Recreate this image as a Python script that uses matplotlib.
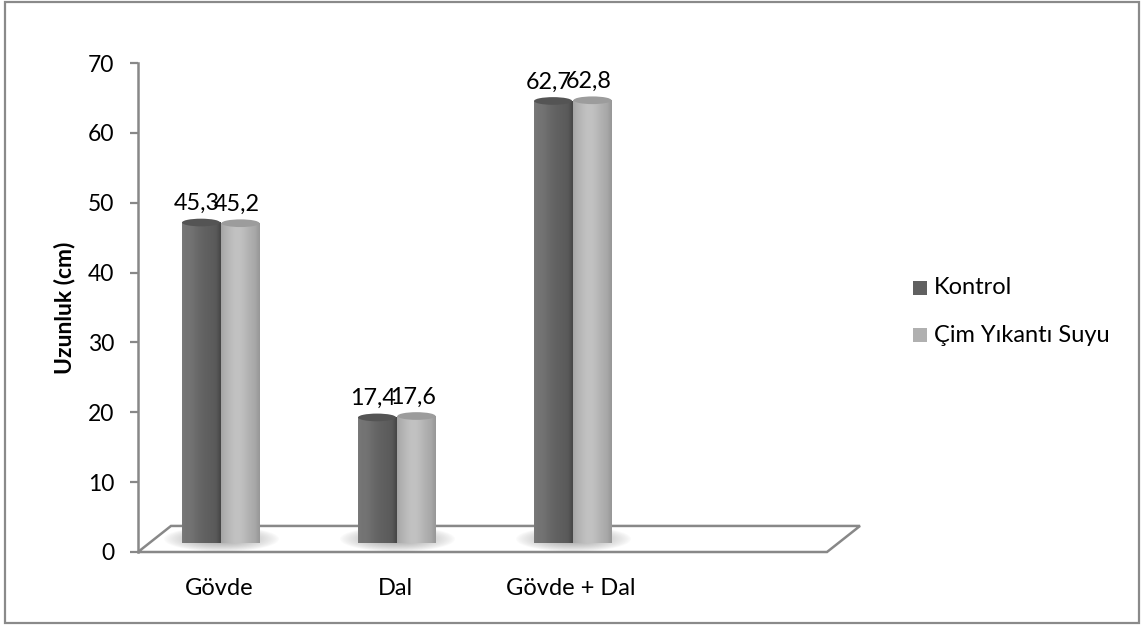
import numpy as np
import matplotlib
matplotlib.use("Agg")
import matplotlib.pyplot as plt
from matplotlib.patches import Ellipse, PathPatch, Polygon, Rectangle
from matplotlib.path import Path

plt.rcParams['font.family'] = ['Lato', 'DejaVu Sans']

# Data
categories = ["Gövde", "Dal", "Gövde + Dal"]
series_names = ["Kontrol", "Çim Yıkantı Suyu"]
kontrol = [45.3, 17.4, 62.7]
cim_yikanti = [45.2, 17.6, 62.8]
value_labels_k = ["45,3", "17,4", "62,7"]
value_labels_c = ["45,2", "17,6", "62,8"]
y_ticks = [0, 10, 20, 30, 40, 50, 60, 70]

W, H = 1143, 626
fig = plt.figure(figsize=(W / 100, H / 100), dpi=100)
fig.patch.set_facecolor("white")

# outer chart border
fig.add_artist(Rectangle((5 / W, 3 / H), 1134 / W, 621 / H, transform=fig.transFigure,
                         fill=False, edgecolor="#8a8a8a", linewidth=1.6))

ax_l, ax_r, ax_b, ax_t = 138, 860, 552, 63
ax = fig.add_axes([ax_l / W, (H - ax_b) / H, (ax_r - ax_l) / W, (ax_b - ax_t) / H])
xmin = (ax_l - 219) / 176
xmax = (ax_r - 219) / 176

grey = "#888888"
depth_x = 33 / 176          # floor depth, horizontal part (data units)
depth_y = 3.73              # floor depth, vertical part (value units)
base = depth_y / 2          # bars stand in the middle of the floor
half_w = 0.108
ell_h = 0.55

# floor
floor_front_r = (827 - 219) / 176
floor = Polygon([(xmin, 0), (floor_front_r, 0), (floor_front_r + depth_x, depth_y),
                 (xmin + depth_x, depth_y)], closed=True, facecolor="white",
                edgecolor=grey, linewidth=1.8, clip_on=False, zorder=1)
ax.add_patch(floor)


def profile(kind, n=64):
    t = np.linspace(0, 1, n)
    if kind == "dark":
        v = 0.44 - 0.10 * t + 0.03 * np.exp(-((t - 0.2) / 0.2) ** 2)
        v -= 0.06 * np.exp(-((1 - t) / 0.08) ** 2)
        v += 0.02 * np.exp(-(t / 0.06) ** 2)
    else:
        v = 0.64 + 0.12 * np.exp(-((t - 0.42) / 0.35) ** 2)
        v -= 0.05 * np.exp(-((1 - t) / 0.08) ** 2)
        v -= 0.02 * np.exp(-(t / 0.06) ** 2)
    return v


def shadow(xc):
    nx, ny = 120, 40
    xs = np.linspace(-1, 1, nx)
    ys = np.linspace(-1, 1, ny)
    X, Y = np.meshgrid(xs, ys)
    r = np.sqrt(X ** 2 + Y ** 2)
    a = np.clip(1 - r, 0, 1) ** 0.8 * 0.65
    img = np.zeros((ny, nx, 4))
    img[..., :3] = 0.42
    img[..., 3] = a
    sw, sh = 0.33, 1.9
    ax.imshow(img, extent=[xc - sw, xc + sw, base - sh, base + sh * 0.9],
              aspect="auto", interpolation="bilinear", zorder=2, clip_on=False)


def cylinder(xc, value, kind):
    top = base + value
    verts = [(xc - half_w, top), (xc - half_w, base)]
    th = np.linspace(np.pi, 2 * np.pi, 40)
    verts += [(xc + half_w * np.cos(a), base + ell_h * np.sin(a)) for a in th]
    verts += [(xc + half_w, top), (xc - half_w, top)]
    codes = [Path.MOVETO] + [Path.LINETO] * (len(verts) - 2) + [Path.CLOSEPOLY]
    body = PathPatch(Path(verts, codes), facecolor="none", edgecolor="none",
                     transform=ax.transData)
    ax.add_patch(body)
    prof = profile(kind)
    img = np.tile(prof[None, :, None], (2, 1, 3))
    im = ax.imshow(img, extent=[xc - half_w, xc + half_w, base - ell_h, top],
                   aspect="auto", interpolation="bilinear", zorder=3,
                   vmin=0, vmax=1, clip_on=False)
    im.set_clip_path(body)
    cap_col = "#545454" if kind == "dark" else "#9c9c9c"
    ax.add_patch(Ellipse((xc, top), 2 * half_w, 2 * ell_h, facecolor=cap_col,
                         edgecolor="none", zorder=4, clip_on=False))
    return top


offset = 0.112
for i in range(len(categories)):
    xc = i + 0.01
    shadow(xc)
    t1 = cylinder(xc - offset, kontrol[i], "dark")
    ax.annotate(value_labels_k[i], (xc - offset - 0.025, t1), xytext=(0, 6),
                textcoords="offset points", ha="center", va="bottom",
                fontsize=16.8, color="black", zorder=6)
    t2 = cylinder(xc + offset, cim_yikanti[i], "light")
    ax.annotate(value_labels_c[i], (xc + offset - 0.02, t2), xytext=(0, 6),
                textcoords="offset points", ha="center", va="bottom",
                fontsize=16.8, color="black", zorder=6)

ax.set_xlim(xmin, xmax)
ax.set_ylim(0, 70)
ax.set_facecolor("none")
for s in ["top", "right", "bottom"]:
    ax.spines[s].set_visible(False)
ax.spines["left"].set_color(grey)
ax.spines["left"].set_linewidth(1.8)
ax.set_yticks(y_ticks)
ax.set_yticklabels([str(v) for v in y_ticks], fontsize=16.5)
ax.tick_params(axis="y", length=6, width=1.6, color=grey, pad=11)
ax.set_xticks(range(len(categories)))
ax.set_xticklabels(categories, fontsize=17)
ax.tick_params(axis="x", length=0, pad=19)
ax.set_ylabel("Uzunluk (cm)", fontsize=16.5, fontweight="bold", labelpad=9)

# legend
leg_cols = ["#606060", "#b0b0b0"]
leg_y = [288, 335]
for name, col, yy in zip(series_names, leg_cols, leg_y):
    fig.add_artist(Rectangle((913 / W, (H - yy - 7) / H), 14 / W, 14 / H,
                             transform=fig.transFigure, facecolor=col, edgecolor="none"))
    fig.text(934 / W, (H - yy) / H, name, fontsize=17, va="center", ha="left")

fig.savefig("out.png", dpi=100, facecolor="white")
